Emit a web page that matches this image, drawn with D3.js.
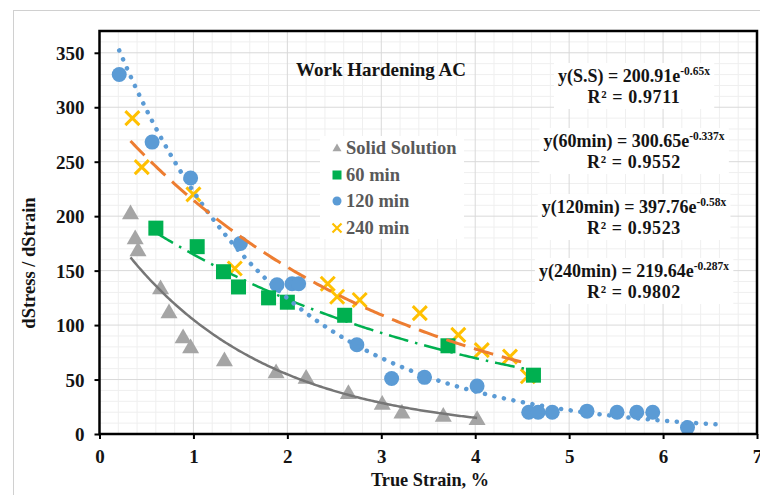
<!DOCTYPE html>
<html>
<head>
<meta charset="utf-8">
<script src="https://cdn.jsdelivr.net/npm/d3@7"></script>
<style>
  html, body { margin: 0; padding: 0; background: #fff; }
  svg { display: block; }
  text { font-family: "Liberation Serif", "Times New Roman", serif; font-weight: bold; }
</style>
</head>
<body>
<svg id="chart" width="760" height="495"></svg>
<script>
// ---- data ----
const seriesNames = ["Solid Solution", "60 min", "120 min", "240 min"];

const ssX   = [0.33, 0.38, 0.41, 0.65, 0.74, 0.89, 0.97, 1.33, 1.88, 2.20, 2.65, 3.01, 3.22, 3.66, 4.02];
const ssY   = [203, 180, 169, 134, 112, 89, 80, 68, 57, 52, 38, 28, 20, 17, 14];

const m60X  = [0.60, 1.04, 1.32, 1.48, 1.80, 2.00, 2.61, 3.71, 4.62];
const m60Y  = [189, 172, 149, 135, 125, 121, 109, 81, 54];

const m120X = [0.21, 0.56, 0.97, 1.50, 1.89, 2.05, 2.12, 2.74, 3.11, 3.46, 4.02, 4.57, 4.67, 4.82, 5.19, 5.51, 5.72, 5.89, 6.26];
const m120Y = [330, 268, 235, 175, 137, 138, 138, 82, 51, 52, 44, 20, 20, 20, 21, 20, 20, 20, 6];

const m240X = [0.35, 0.45, 1.00, 1.44, 2.43, 2.53, 2.77, 3.41, 3.82, 4.07, 4.37, 4.56];
const m240Y = [290, 245, 220, 152, 138, 126, 123, 111, 91, 77, 71, 53];

// exponential trendlines a*e^(b*x) and their x-ranges
const fitA     = [200.91, 219.64, 397.76, 300.65];
const fitB     = [-0.65, -0.287, -0.58, -0.337];
const fitFrom  = [0.33, 0.60, 0.21, 0.33];
const fitTo    = [4.02, 4.62, 6.60, 4.56];

// equation labels
const eqMain = ["y(S.S) = 200.91e", "y(60min) = 300.65e", "y(120min) = 397.76e", "y(240min) = 219.64e"];
const eqSup  = ["-0.65x", "-0.337x", "-0.58x", "-0.287x"];
const eqR2   = ["R\u00B2 = 0.9711", "R\u00B2 = 0.9552", "R\u00B2 = 0.9523", "R\u00B2 = 0.9802"];

const xTicks = [0, 1, 2, 3, 4, 5, 6, 7];
const yTicks = [0, 50, 100, 150, 200, 250, 300, 350];

const title = "Work Hardening AC";
const xTitle = "True Strain, %";
const yTitle = "dStress / dStrain";

// ---- layout ----
const svg = d3.select("#chart");
const L = 99.5, R = 757, T = 31, B = 434;
const x = d3.scaleLinear().domain([0, 7]).range([L, R]);
const y = d3.scaleLinear().domain([0, 370]).range([B, T]);

const colors = ["#a5a5a5", "#00b050", "#5b9bd5", "#ffc000"];
const lineColors = ["#767676", "#00b050", "#5b9bd5", "#ed7d31"];
const ink = "#141414";

// outer chart frame
svg.append("rect").attr("x", 13.5).attr("y", 10.5).attr("width", 800).attr("height", 600)
  .attr("fill", "#fff").attr("stroke", "#d0d0d0").attr("stroke-width", 1);

// gridlines
const grid = svg.append("g");
const minorX = d3.range(0, 7.001, 0.2).filter(v => Math.abs(v - Math.round(v)) > 1e-6);
const minorY = d3.range(0, 370.001, 10).filter(v => v % 50 !== 0);
grid.selectAll(".mx").data(minorX).enter().append("line")
  .attr("x1", d => x(d)).attr("x2", d => x(d)).attr("y1", T).attr("y2", B)
  .attr("stroke", "#efefef").attr("stroke-width", 1);
grid.selectAll(".my").data(minorY).enter().append("line")
  .attr("x1", L).attr("x2", R).attr("y1", d => y(d)).attr("y2", d => y(d))
  .attr("stroke", "#efefef").attr("stroke-width", 1);
grid.selectAll(".Mx").data(xTicks).enter().append("line")
  .attr("x1", d => x(d)).attr("x2", d => x(d)).attr("y1", T).attr("y2", B)
  .attr("stroke", "#d9d9d9").attr("stroke-width", 1);
grid.selectAll(".My").data(yTicks).enter().append("line")
  .attr("x1", L).attr("x2", R).attr("y1", d => y(d)).attr("y2", d => y(d))
  .attr("stroke", "#d9d9d9").attr("stroke-width", 1);

// title
svg.append("text").attr("x", 381).attr("y", 76).attr("text-anchor", "middle")
  .attr("font-size", 19).attr("fill", ink).text(title);

// equation labels with white backing
const eqCx = 634;
const eqY = [82, 147, 213, 277];
eqMain.forEach((m, i) => {
  const g = svg.append("g");
  const bg = g.append("rect").attr("fill", "#fff");
  const t1 = g.append("text").attr("x", eqCx).attr("y", eqY[i]).attr("text-anchor", "middle")
    .attr("font-size", 18).attr("fill", ink);
  t1.append("tspan").text(m);
  t1.append("tspan").attr("dy", -7).attr("font-size", 11.5).text(eqSup[i]);
  const t2 = g.append("text").attr("x", eqCx).attr("y", eqY[i] + 21).attr("text-anchor", "middle")
    .attr("font-size", 18).attr("letter-spacing", 0.6).attr("fill", ink).text(eqR2[i]);
  const b1 = t1.node().getBBox(), b2 = t2.node().getBBox();
  const x0 = Math.min(b1.x, b2.x) - 4, x1 = Math.max(b1.x + b1.width, b2.x + b2.width) + 4;
  bg.attr("x", x0).attr("y", b1.y - 2).attr("width", x1 - x0).attr("height", b2.y + b2.height - b1.y + 4);
});

// legend
const lg = svg.append("g");
lg.append("rect").attr("x", 320).attr("y", 136).attr("width", 144).attr("height", 103).attr("fill", "#fff");
const legRowY = [148, 175, 201, 228];
function drawMarker(g, i, cx, cy, s) {
  if (i === 0) {
    g.append("path").attr("d", d3.symbol().type(d3.symbolTriangle).size(s * s * 0.433)())
      .attr("transform", `translate(${cx},${cy + s * 0.08})`).attr("fill", colors[0]);
  } else if (i === 1) {
    g.append("rect").attr("x", cx - s / 2).attr("y", cy - s / 2).attr("width", s).attr("height", s).attr("fill", colors[1]);
  } else if (i === 2) {
    g.append("circle").attr("cx", cx).attr("cy", cy).attr("r", s / 2).attr("fill", colors[2]);
  } else {
    const h = s / 2;
    g.append("path").attr("d", `M${cx - h},${cy - h}L${cx + h},${cy + h}M${cx - h},${cy + h}L${cx + h},${cy - h}`)
      .attr("stroke", colors[3]).attr("stroke-width", s > 10 ? 3 : 2.2).attr("fill", "none");
  }
}
seriesNames.forEach((n, i) => {
  drawMarker(lg, i, 337, legRowY[i], 9);
  lg.append("text").attr("x", 346).attr("y", legRowY[i] + 6).attr("font-size", 18.5)
    .attr("fill", "#595959").text(n);
});

// markers
const plot = svg.append("g");
const sets = [[ssX, ssY], [m60X, m60Y], [m120X, m120Y], [m240X, m240Y]];
const sizes = [17, 15, 15, 14];
[0, 2, 3, 1].forEach(i => {
  const [xs, ys] = sets[i];
  const g = plot.append("g");
  xs.forEach((xv, k) => drawMarker(g, i, x(xv), y(ys[k]), sizes[i]));
});

// trendlines
const dashes = [null, "20 7 2.5 7", "0.1 9.6", "20 9"];
const widths = [2.5, 2.5, 4.5, 3];
const caps = ["butt", "butt", "round", "butt"];
fitA.forEach((a, i) => {
  const pts = d3.range(fitFrom[i], fitTo[i] + 1e-9, (fitTo[i] - fitFrom[i]) / 200)
    .map(v => [v, a * Math.exp(fitB[i] * v)]);
  const line = d3.line().x(d => x(d[0])).y(d => y(d[1])).curve(d3.curveLinear);
  plot.append("path").attr("d", line(pts)).attr("fill", "none")
    .attr("stroke", lineColors[i]).attr("stroke-width", widths[i])
    .attr("stroke-dasharray", dashes[i]).attr("stroke-linecap", caps[i]);
});

// axes
const xAxis = d3.axisBottom(x).tickValues(xTicks).tickSize(5).tickFormat(d3.format("d"));
const yAxis = d3.axisLeft(y).tickValues(yTicks).tickSize(5).tickFormat(d3.format("d"));
const gx = svg.append("g").attr("transform", `translate(0,${B})`).call(xAxis);
const gy = svg.append("g").attr("transform", `translate(${L},0)`).call(yAxis);
[gx, gy].forEach(g => {
  g.select(".domain").remove();
  g.selectAll(".tick line").attr("stroke", "#000").attr("stroke-width", 2);
  g.selectAll("text").attr("font-size", 19).attr("fill", ink)
    .attr("font-family", "Liberation Serif, serif").attr("font-weight", "bold");
});
gx.selectAll("text").attr("dy", null).attr("y", 29);
gy.selectAll("text").attr("x", -15).attr("dy", "0.35em");

// plot frame
svg.append("rect").attr("x", L).attr("y", T).attr("width", R - L).attr("height", B - T)
  .attr("fill", "none").attr("stroke", "#000").attr("stroke-width", 2.5);

// axis titles
svg.append("text").attr("x", 430).attr("y", 486).attr("text-anchor", "middle")
  .attr("font-size", 18.3).attr("fill", ink).text(xTitle);
svg.append("text").attr("transform", "translate(35,263) rotate(-90)").attr("text-anchor", "middle")
  .attr("font-size", 18.5).attr("fill", ink).text(yTitle);
</script>
</body>
</html>
